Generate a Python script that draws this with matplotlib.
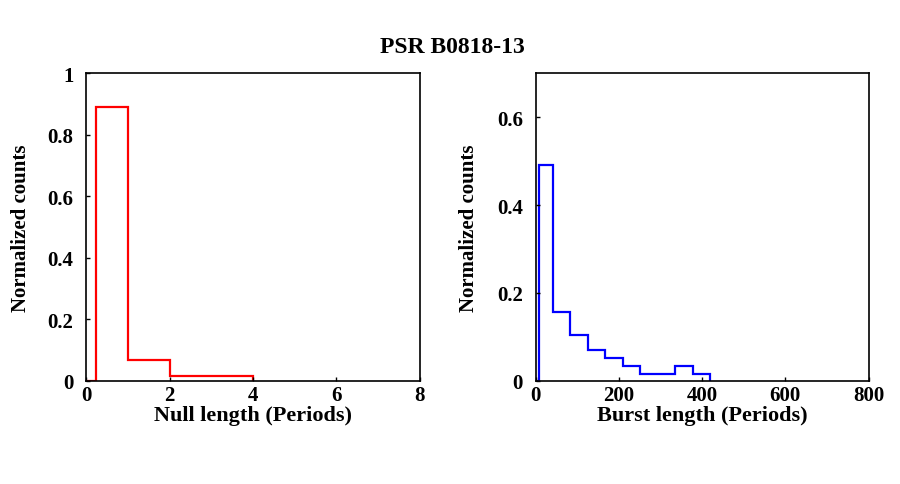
import matplotlib
matplotlib.use("Agg")
import matplotlib.pyplot as plt

# null-length histogram (periods)
null_edges = [0, 0.25, 1, 2, 4]
null_counts = [0, 0.89, 0.068, 0.016]
null_xticks = [0, 2, 4, 6, 8]
null_yticks = [0, 0.2, 0.4, 0.6, 0.8, 1]
null_yticklabels = ["0", "0.2", "0.4", "0.6", "0.8", "1"]

# burst-length histogram (periods)
burst_edges = [0, 8, 42, 84, 126, 168, 210, 252, 336, 378, 420]
burst_counts = [0, 0.49, 0.157, 0.105, 0.07, 0.052, 0.035, 0.017, 0.035, 0.017]
burst_xticks = [0, 200, 400, 600, 800]
burst_yticks = [0, 0.2, 0.4, 0.6]
burst_yticklabels = ["0", "0.2", "0.4", "0.6"]

plt.rcParams["font.family"] = ["Liberation Serif", "DejaVu Serif"]
plt.rcParams["font.weight"] = "bold"

fig = plt.figure(figsize=(9, 4.85), dpi=100)
ax1 = fig.add_axes([0.0956, 0.2124, 0.371, 0.635])
ax2 = fig.add_axes([0.595, 0.2124, 0.370, 0.635])

ax1.stairs(null_counts, null_edges, color="#ff0000", lw=1.6, baseline=0)
ax1.set_xlim(0, 8)
ax1.set_ylim(0, 1)
ax1.set_xticks(null_xticks)
ax1.set_yticks(null_yticks)
ax1.set_yticklabels(null_yticklabels)
ax1.set_xlabel("Null length (Periods)", fontsize=16, fontweight="bold", labelpad=0)
ax1.set_ylabel("Normalized counts", fontsize=15, fontweight="bold", labelpad=12)

ax2.stairs(burst_counts, burst_edges, color="#0000ff", lw=1.6, baseline=0)
ax2.set_xlim(0, 800)
ax2.set_ylim(0, 0.7)
ax2.set_xticks(burst_xticks)
ax2.set_yticks(burst_yticks)
ax2.set_yticklabels(burst_yticklabels)
ax2.set_xlabel("Burst length (Periods)", fontsize=16, fontweight="bold", labelpad=0)
ax2.set_ylabel("Normalized counts", fontsize=15, fontweight="bold", labelpad=13)

for ax in (ax1, ax2):
    ax.tick_params(direction="in", length=3, width=1, labelsize=15)
    ax.tick_params(axis="y", pad=9)
    ax.tick_params(axis="x", pad=3)
    for s in ax.spines.values():
        s.set_linewidth(1.2)

fig.text(0.503, 0.903, "PSR B0818-13", ha="center", va="center", fontsize=17, fontweight="bold")

fig.savefig("out.png", dpi=100)
